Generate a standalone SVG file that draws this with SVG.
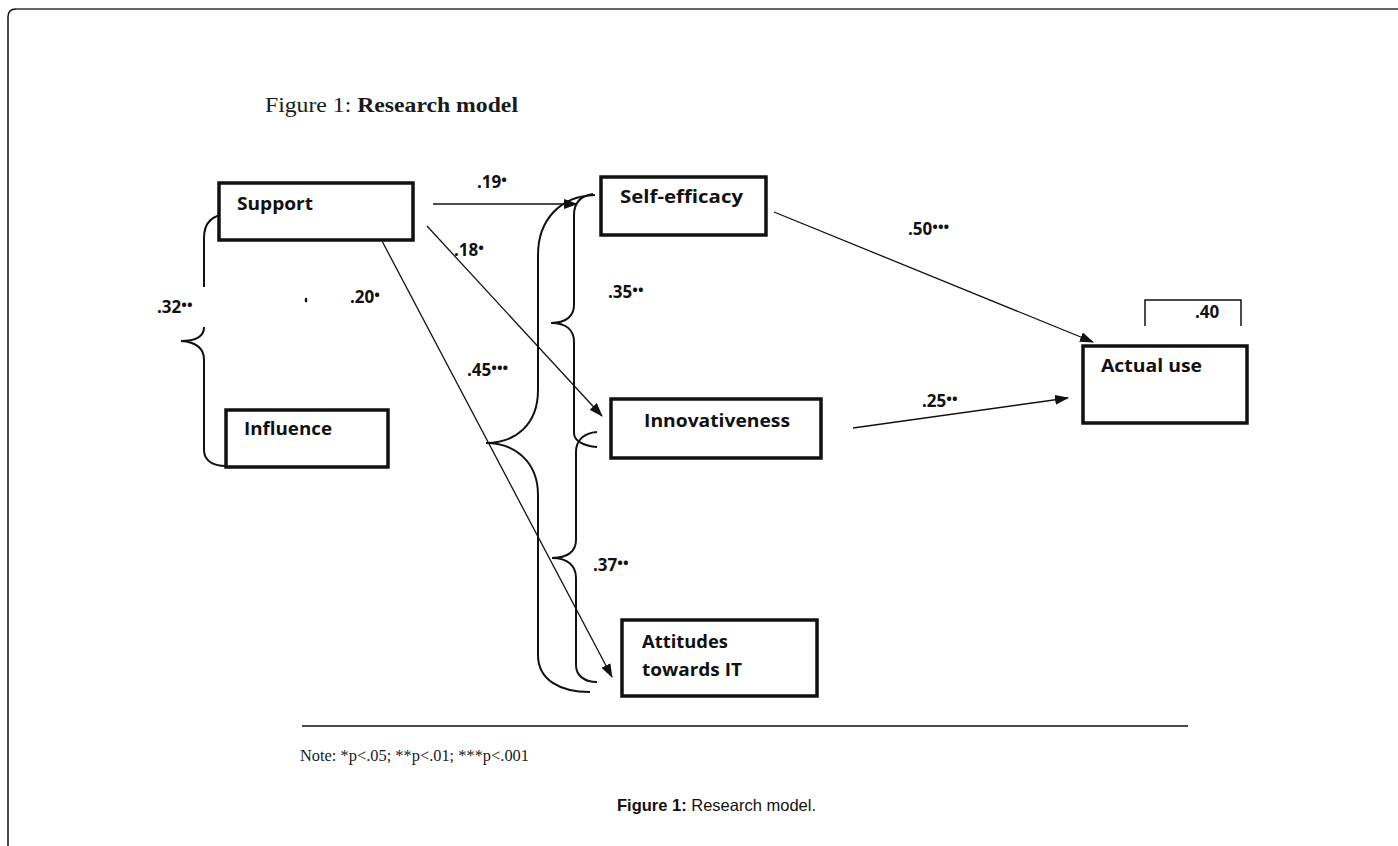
<svg xmlns="http://www.w3.org/2000/svg" width="1398" height="846" viewBox="0 0 1398 846">
<style>
.box{fill:#fff;stroke:#111;stroke-width:3.5}
.lbl{font-family:"Open Sans","Liberation Sans",sans-serif;font-weight:bold;font-size:18px;fill:#111}
.num{font-family:"Open Sans","Liberation Sans",sans-serif;font-weight:bold;font-size:17px;fill:#111}
.num tspan{font-size:15px}
.con{fill:none;stroke:#111;stroke-width:1.3}
.brace{fill:none;stroke:#111;stroke-width:2}
.serif{font-family:"Liberation Serif","Times New Roman",serif;fill:#1a1a1a}
.cap{font-family:"Liberation Sans",Arial,sans-serif;font-size:16.5px;fill:#111}
</style>
<defs>
<marker id="ah" markerUnits="userSpaceOnUse" markerWidth="14" markerHeight="10" refX="13" refY="5" orient="auto">
<path d="M0,0 L14,5 L0,10 Z" fill="#111"/>
</marker>
</defs>
<rect width="1398" height="846" fill="#fff"/>
<g id="frame">
<path d="M8,846 V17 Q8,9 16,9" fill="none" stroke="#111" stroke-width="1.5"/>
<path d="M16,9 H1398" fill="none" stroke="#666" stroke-width="2"/>
</g>
<text class="serif" x="265" y="112" font-size="20" textLength="253" lengthAdjust="spacingAndGlyphs">Figure 1: <tspan font-weight="bold">Research model</tspan></text>

<g id="connectors">
<path class="con" d="M433,204 H577" marker-end="url(#ah)"/>
<path class="con" d="M427,226 L602,416" marker-end="url(#ah)"/>
<path class="con" d="M382,241 L612,677" marker-end="url(#ah)"/>
<path class="con" d="M774,212 L1093,342" marker-end="url(#ah)"/>
<path class="con" d="M853,428 L1068,398" marker-end="url(#ah)"/>
<path class="brace" d="M227,214 C212,215 204,222 204,238 V287 M204,327 C204,336 196,341 181,341 C196,342 204,348 204,360 V450 C204,460 212,466 226,466"/>
<path class="brace" d="M595,195 C560,196 538,220 538,255 V390 C538,425 515,443 486,443 C515,443 538,462 538,495 V655 C538,680 560,692 590,692"/>
<path class="brace" d="M593,194 C580,196 574,203 574,215 V305 C574,316 566,323 551,323 C566,323 574,330 574,342 V433 C574,441 584,446 597,447"/>
<path class="brace" d="M597,432 C584,433 576,440 576,452 V540 C576,551 568,558 552,558 C568,558 576,566 576,578 V665 C576,676 585,682 597,682"/>
<path d="M1145,326 V300 H1241 V326" fill="none" stroke="#111" stroke-width="1.5"/>
<ellipse cx="306" cy="300" rx="1.3" ry="2.5" fill="#111"/>
</g>

<g id="labels">
<text class="num" x="477" y="188">.19<tspan dy="-3">•</tspan></text>
<text class="num" x="454" y="256">.18<tspan dy="-3">•</tspan></text>
<text class="num" x="350" y="303">.20<tspan dy="-3">•</tspan></text>
<text class="num" x="157" y="313">.32<tspan dy="-3">••</tspan></text>
<text class="num" x="467" y="376">.45<tspan dy="-3">•••</tspan></text>
<text class="num" x="608" y="298">.35<tspan dy="-3">••</tspan></text>
<text class="num" x="593" y="571">.37<tspan dy="-3">••</tspan></text>
<text class="num" x="908" y="235">.50<tspan dy="-3">•••</tspan></text>
<text class="num" x="922" y="407">.25<tspan dy="-3">••</tspan></text>
<text class="num" x="1195" y="318">.40</text>
</g>

<g id="support">
<rect class="box" x="219" y="183" width="194" height="57" stroke-width="4"/>
<text class="lbl" x="237" y="210" textLength="76" lengthAdjust="spacingAndGlyphs">Support</text>
</g>
<g id="influence">
<rect class="box" x="226" y="410" width="162" height="57" stroke-width="3"/>
<text class="lbl" x="244" y="435" textLength="88" lengthAdjust="spacingAndGlyphs">Influence</text>
</g>
<g id="self-efficacy">
<rect class="box" x="601" y="177" width="165" height="58" stroke-width="4"/>
<text class="lbl" x="620" y="203" textLength="123" lengthAdjust="spacingAndGlyphs">Self-efficacy</text>
</g>
<g id="innovativeness">
<rect class="box" x="611" y="399" width="210" height="59"/>
<text class="lbl" x="644" y="427" textLength="146" lengthAdjust="spacingAndGlyphs">Innovativeness</text>
</g>
<g id="attitudes">
<rect class="box" x="622" y="620" width="195" height="76" stroke-width="3"/>
<text class="lbl" x="642" y="648" textLength="86" lengthAdjust="spacingAndGlyphs">Attitudes</text>
<text class="lbl" x="642" y="676" textLength="100" lengthAdjust="spacingAndGlyphs">towards IT</text>
</g>
<g id="actual-use">
<rect class="box" x="1083" y="346" width="164" height="77" stroke-width="4"/>
<text class="lbl" x="1101" y="372" textLength="101" lengthAdjust="spacingAndGlyphs">Actual use</text>
</g>

<g id="footer">
<line x1="302" y1="726" x2="1188" y2="726" stroke="#111" stroke-width="1.5"/>
<text class="serif" x="300" y="761" font-size="16" textLength="229" lengthAdjust="spacingAndGlyphs">Note: *p&lt;.05; **p&lt;.01; ***p&lt;.001</text>
<text class="cap" x="617" y="811"><tspan font-weight="bold">Figure 1:</tspan> Research model.</text>
</g>
</svg>
